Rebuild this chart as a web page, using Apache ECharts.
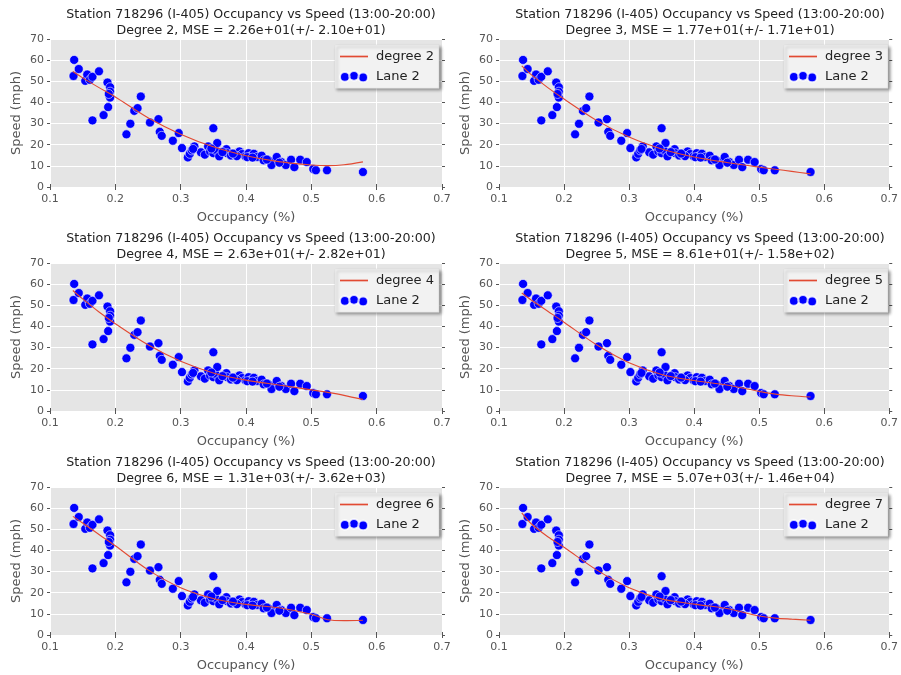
<!DOCTYPE html>
<html>
<head>
<meta charset="utf-8">
<script src="https://cdn.jsdelivr.net/npm/echarts@6/dist/echarts.min.js"></script>
<style>
  html, body { margin: 0; padding: 0; background: #ffffff; }
  #chart { width: 901px; height: 675px; }
</style>
</head>
<body>
<div id="chart"></div>
<script>
// Lane 2 observations: occupancy (fraction) and speed (mph)
const occupancy = [
  0.137, 0.136, 0.144, 0.154, 0.157, 0.161, 0.165, 0.175, 0.165, 0.182,
  0.188, 0.192, 0.192, 0.192, 0.189, 0.190, 0.217, 0.223, 0.229, 0.234,
  0.239, 0.253, 0.266, 0.268, 0.271, 0.288, 0.297, 0.302, 0.311, 0.314,
  0.317, 0.321, 0.331, 0.337, 0.342, 0.350, 0.345, 0.350, 0.353, 0.356,
  0.359, 0.347, 0.370, 0.371, 0.377, 0.383, 0.390, 0.394, 0.399, 0.404,
  0.407, 0.412, 0.417, 0.424, 0.427, 0.438, 0.439, 0.447, 0.454, 0.461,
  0.469, 0.474, 0.483, 0.493, 0.503, 0.507, 0.524, 0.579, 0.386, 0.402,
  0.432, 0.451, 0.364, 0.319, 0.380, 0.410
];
const speed = [
  60.1, 52.5, 55.8, 50.2, 53.2, 50.7, 52.1, 54.7, 31.5, 34.0,
  49.4, 47.2, 45.1, 42.3, 37.8, 44.0, 24.9, 29.9, 36.0, 37.3,
  42.8, 30.5, 32.1, 26.1, 24.2, 21.9, 25.5, 18.4, 14.0, 15.7,
  17.3, 19.2, 16.4, 15.3, 19.2, 27.8, 16.8, 16.0, 17.6, 20.8,
  14.5, 18.2, 17.9, 16.0, 14.9, 15.3, 16.8, 15.6, 14.5, 16.0,
  14.5, 15.7, 14.2, 14.8, 12.6, 12.1, 10.4, 14.2, 11.8, 10.4,
  12.9, 9.4, 12.9, 11.8, 8.5, 7.9, 7.9, 7.1, 14.6, 14.1,
  13.0, 11.5, 16.5, 18.0, 15.8, 13.9
];

// Polynomial fit curves sampled along occupancy
const fitOcc = [0.135, 0.15, 0.175, 0.2, 0.25, 0.3, 0.35, 0.4, 0.45, 0.5, 0.525, 0.55, 0.579];
const fitDeg2 = [54.6, 51.6, 47.0, 42.6, 32.8, 25.0, 19.0, 14.8, 12.0, 10.4, 10.1, 10.5, 11.9];
const fitDeg3 = [57.3, 53.0, 47.0, 41.6, 31.5, 23.6, 18.0, 14.2, 11.6, 9.4, 8.4, 7.4, 6.2];
const fitDeg4 = [57.0, 53.0, 46.8, 41.3, 31.3, 23.5, 18.0, 14.6, 12.3, 10.0, 8.8, 7.4, 5.4];
const fitDeg5 = [55.8, 52.4, 47.2, 42.0, 31.3, 22.8, 17.3, 14.4, 12.3, 9.3, 8.0, 7.2, 6.6];
const fitDeg6 = [56.1, 53.0, 47.5, 42.2, 30.8, 22.4, 17.3, 14.5, 12.9, 9.8, 7.2, 6.8, 7.0];
const fitDeg7 = [57.8, 52.5, 46.5, 41.5, 30.8, 22.4, 17.1, 14.6, 12.5, 9.0, 8.0, 7.5, 7.0];

const degrees = [2, 3, 4, 5, 6, 7];
const fits = [fitDeg2, fitDeg3, fitDeg4, fitDeg5, fitDeg6, fitDeg7];
const mseText = [
  '2.26e+01(+/- 2.10e+01)',
  '1.77e+01(+/- 1.71e+01)',
  '2.63e+01(+/- 2.82e+01)',
  '8.61e+01(+/- 1.58e+02)',
  '1.31e+03(+/- 3.62e+03)',
  '5.07e+03(+/- 1.46e+04)'
];
const titleLine = 'Station 718296 (I-405) Occupancy vs Speed (13:00-20:00)';
const xLabel = 'Occupancy (%)';
const yLabel = 'Speed (mph)';

const FONT = 'DejaVu Sans';
const colLeft = [50, 499];
const rowTop = [39, 263, 487];
const plotW = 392;
const plotH = 148;

// legend glyphs: a thin horizontal stroke and three staggered dots
const thinLine = 'path://M0,0H20V1.2H0Z';
const threeDots = 'path://M0,5.8a4.5,4.5 0 1,0 9,0a4.5,4.5 0 1,0 -9,0Z' +
  'M8.5,4.8a4.5,4.5 0 1,0 9,0a4.5,4.5 0 1,0 -9,0Z' +
  'M17,6.3a4.5,4.5 0 1,0 9,0a4.5,4.5 0 1,0 -9,0Z';

const grid = [], xAxis = [], yAxis = [], series = [], title = [], legend = [];
const scatterData = occupancy.map((o, i) => [o, speed[i]]);

degrees.forEach((deg, k) => {
  const col = k % 2, row = Math.floor(k / 2);
  const left = colLeft[col], top = rowTop[row];
  grid.push({
    left: left, top: top, width: plotW, height: plotH,
    show: true, backgroundColor: '#e5e5e5', borderWidth: 0
  });
  const tickStyle = { show: true, length: 3, inside: false, lineStyle: { color: '#555555', width: 1 } };
  // main bottom axis
  xAxis.push({
    gridIndex: k, type: 'value', min: 0.1, max: 0.7, interval: 0.1,
    name: xLabel, nameLocation: 'middle', nameGap: 24,
    nameTextStyle: { fontFamily: FONT, fontSize: 13, color: '#555555' },
    axisLine: { show: false }, axisTick: tickStyle,
    axisLabel: { fontFamily: FONT, fontSize: 11, color: '#555555', margin: 7,
      formatter: v => v.toFixed(1) },
    splitLine: { show: true, lineStyle: { color: '#ffffff', width: 1 } }
  });
  // top edge ticks only
  xAxis.push({
    gridIndex: k, type: 'value', position: 'top', min: 0.1, max: 0.7, interval: 0.1,
    axisLine: { show: false }, axisTick: tickStyle, axisLabel: { show: false },
    splitLine: { show: false }
  });
  yAxis.push({
    gridIndex: k, type: 'value', min: 0, max: 70, interval: 10,
    name: yLabel, nameLocation: 'middle', nameGap: 27,
    nameTextStyle: { fontFamily: FONT, fontSize: 13, color: '#555555' },
    axisLine: { show: false }, axisTick: tickStyle,
    axisLabel: { fontFamily: FONT, fontSize: 11, color: '#555555', margin: 6 },
    splitLine: { show: true, lineStyle: { color: '#ffffff', width: 1 } }
  });
  // right edge ticks only
  yAxis.push({
    gridIndex: k, type: 'value', position: 'right', min: 0, max: 70, interval: 10,
    axisLine: { show: false }, axisTick: tickStyle, axisLabel: { show: false },
    splitLine: { show: false }
  });
  title.push({
    text: titleLine + '\nDegree ' + deg + ', MSE = ' + mseText[k],
    left: left + plotW / 2, top: top - 37, textAlign: 'center',
    textStyle: { fontFamily: FONT, fontSize: 12.6, fontWeight: 'normal', color: '#222222', lineHeight: 16 }
  });
  const lineName = 'degree ' + deg;
  legend.push({
    orient: 'vertical', left: left + 285, top: top + 6,
    padding: [5, 5, 5, 4], itemGap: 7, itemWidth: 28, itemHeight: 12,
    symbolKeepAspect: true,
    backgroundColor: '#f2f2f2', borderColor: '#dddddd', borderWidth: 0.5,
    shadowColor: 'rgba(0,0,0,0.45)', shadowBlur: 3, shadowOffsetX: 2, shadowOffsetY: 2,
    textStyle: { fontFamily: FONT, fontSize: 13, color: '#222222', padding: [0, 0, 0, 3] },
    selectedMode: false,
    data: [
      { name: lineName, icon: thinLine },
      { name: 'Lane 2', icon: threeDots }
    ]
  });
  series.push({
    name: lineName, type: 'line', xAxisIndex: 2 * k, yAxisIndex: 2 * k,
    data: fitOcc.map((o, i) => [o, fits[k][i]]),
    smooth: 0.3, symbol: 'none', showSymbol: false, z: 3,
    lineStyle: { color: '#e24a33', width: 1.1 }, itemStyle: { color: '#e24a33' }
  });
  series.push({
    name: 'Lane 2', type: 'scatter', xAxisIndex: 2 * k, yAxisIndex: 2 * k,
    data: scatterData, symbolSize: 9, z: 2,
    itemStyle: { color: '#0000ff', borderColor: 'rgba(255,255,255,0.8)', borderWidth: 0.7, opacity: 1 }
  });
});

const chart = echarts.init(document.getElementById('chart'), null, { renderer: 'canvas' });
chart.setOption({
  backgroundColor: '#ffffff',
  animation: false,
  title, legend, grid, xAxis, yAxis, series
});
</script>
</body>
</html>
